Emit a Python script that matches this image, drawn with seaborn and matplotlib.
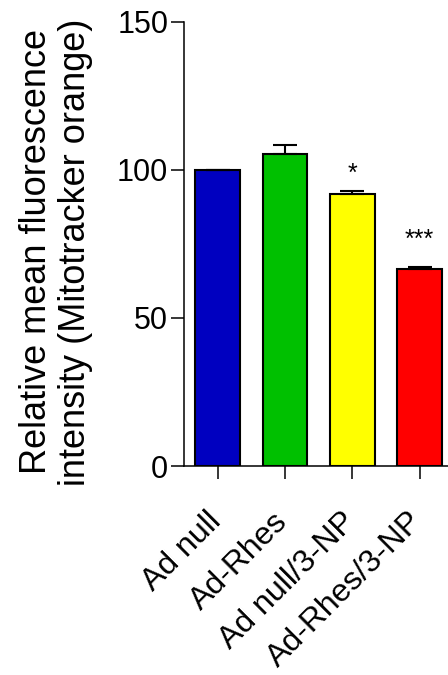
import seaborn as sns
import matplotlib.pyplot as plt
import matplotlib.transforms as mtransforms
import pandas as pd

groups = ["Ad null", "Ad-Rhes", "Ad null/3-NP", "Ad-Rhes/3-NP"]
means = [100.0, 105.3, 92.0, 66.4]
sems = [0.0, 3.1, 1.0, 0.7]
stars = ["", "", "*", "***"]
star_y = [0, 0, 96.5, 74.0]
bar_colors = ["#0000C0", "#00C000", "#FFFF00", "#FF0000"]

sns.set_style("ticks")
plt.rcParams["font.family"] = ["Liberation Sans", "DejaVu Sans"]
plt.rcParams["text.color"] = "black"
plt.rcParams["axes.labelcolor"] = "black"
plt.rcParams["xtick.color"] = "black"
plt.rcParams["ytick.color"] = "black"
plt.rcParams["axes.edgecolor"] = "black"

df = pd.DataFrame({"group": groups, "value": means})

fig = plt.figure(figsize=(4.48, 6.75), dpi=100)
ax = fig.add_axes([184 / 448, 209 / 675, 264 / 448, 444 / 675])

sns.barplot(
    data=df,
    x="group",
    y="value",
    hue="group",
    palette=bar_colors,
    saturation=1,
    edgecolor="black",
    linewidth=1.5,
    width=0.667,
    legend=False,
    ax=ax,
    zorder=2,
)

# upper-only error bars (SEM)
ax.errorbar(
    range(len(groups)),
    means,
    yerr=[[0] * len(sems), sems],
    fmt="none",
    ecolor="black",
    elinewidth=1.5,
    capsize=8.5,
    capthick=1.5,
    zorder=3,
)

for i, s in enumerate(stars):
    if s:
        ax.text(i, star_y[i], s, ha="center", va="baseline", fontsize=18)

ax.set_ylim(0, 150)
ax.set_xlim(-0.5, 3.42)
ax.set_yticks([0, 50, 100, 150])
ax.set_xlabel("")
ax.set_ylabel("Relative mean fluorescence\nintensity (Mitotracker orange)",
              fontsize=26, linespacing=1.15)
ax.yaxis.set_label_coords(-0.345, 0.482)

sns.despine(ax=ax)
for sp in ["left", "bottom"]:
    ax.spines[sp].set_linewidth(1.1)
ax.tick_params(axis="both", length=9.4, width=1.1, color="black")
ax.tick_params(axis="y", labelsize=22, pad=2)
ax.tick_params(axis="x", labelsize=23, pad=6)
shift = mtransforms.ScaledTranslation(-12 / 100, -19 / 100, fig.dpi_scale_trans)
for lab in ax.get_xticklabels():
    lab.set_rotation(45)
    lab.set_ha("right")
    lab.set_rotation_mode("anchor")
    lab.set_transform(lab.get_transform() + shift)

fig.savefig("out.png", dpi=100)
